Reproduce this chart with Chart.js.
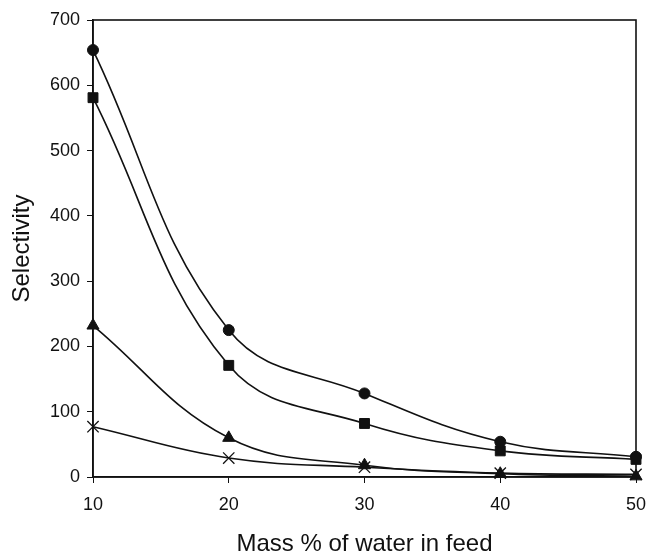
<!DOCTYPE html>
<html>
<head>
<meta charset="utf-8">
<script src="https://cdn.jsdelivr.net/npm/chart.js@4.4.0/dist/chart.umd.min.js"></script>
<style>
  html, body { margin: 0; padding: 0; background: #fff; }
  #wrap { width: 649px; height: 556px; }
</style>
</head>
<body>
<div id="wrap"><canvas id="chart" width="649" height="556"></canvas></div>
<script>
// water content in feed (mass %)
const waterPct = [10, 20, 30, 40, 50];
// selectivity for each series
const circleVals = [654, 225, 128, 54, 31];
const squareVals = [581, 171, 82, 40, 27];
const triangleVals = [232, 60, 18, 5, 1];
const crossVals = [77, 29, 15, 6, 4];

const yTicks = [0, 100, 200, 300, 400, 500, 600, 700];
const xTicks = [10, 20, 30, 40, 50];

function toPoints(vals) {
  return vals.map((v, i) => ({ x: waterPct[i], y: v }));
}

function series(vals, style, radius) {
  return {
    data: toPoints(vals),
    borderColor: "#111",
    backgroundColor: "#111",
    borderWidth: 1.6,
    pointStyle: style,
    pointRadius: radius,
    pointBorderWidth: style == "crossRot" ? 1.3 : 1,
    tension: 0.4,
    clip: false,
    fill: false
  };
}

// draws the box round the plot area (top and right sides)
const frame = {
  id: "frame",
  beforeDatasetsDraw(chart) {
    const a = chart.chartArea;
    const ctx = chart.ctx;
    ctx.save();
    ctx.strokeStyle = "#111";
    ctx.lineWidth = 1.6;
    ctx.strokeRect(a.left, a.top, a.right - a.left, a.bottom - a.top);
    ctx.restore();
  }
};

new Chart(document.getElementById("chart"), {
  type: "line",
  data: {
    datasets: [
      series(circleVals, "circle", 5.5),
      series(squareVals, "rect", 7),
      series(triangleVals, "triangle", 7),
      series(crossVals, "crossRot", 8)
    ]
  },
  options: {
    responsive: false,
    animation: false,
    layout: { padding: { top: 20, right: 13, left: 0, bottom: 0 } },
    plugins: { legend: { display: false }, tooltip: { enabled: false } },
    scales: {
      x: {
        type: "linear",
        min: 10,
        max: 50,
        afterBuildTicks: (s) => { s.ticks = xTicks.map(v => ({ value: v })); },
        afterFit: (s) => { s.height = 79; s.paddingRight = 0; s.paddingLeft = 0; },
        grid: { display: true, drawOnChartArea: false, tickLength: 6, color: "#111" },
        border: { color: "#111", width: 1.6 },
        ticks: { color: "#111", font: { family: "Liberation Sans", size: 18 }, padding: 11 },
        title: {
          display: true,
          text: "Mass % of water in feed",
          color: "#111",
          font: { family: "Liberation Sans", size: 24 },
          padding: { top: 8, bottom: -3 }
        }
      },
      y: {
        min: 0,
        max: 700,
        afterBuildTicks: (s) => { s.ticks = yTicks.map(v => ({ value: v })); },
        afterFit: (s) => { s.width = 93; },
        grid: { display: true, drawOnChartArea: false, tickLength: 6, color: "#111" },
        border: { color: "#111", width: 1.6 },
        ticks: { color: "#111", font: { family: "Liberation Sans", size: 18 }, padding: 7 },
        title: {
          display: true,
          text: "Selectivity",
          color: "#111",
          font: { family: "Liberation Sans", size: 24 },
          padding: { top: 8, bottom: 0 }
        }
      }
    }
  },
  plugins: [frame]
});
</script>
</body>
</html>
